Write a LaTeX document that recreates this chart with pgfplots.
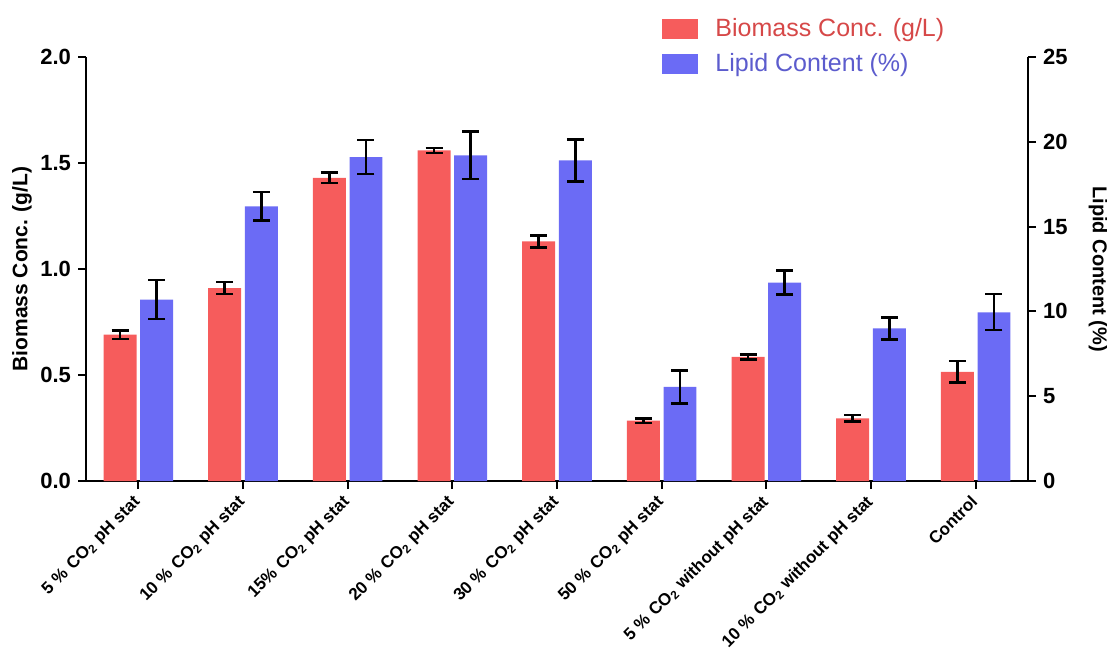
\documentclass[border=0pt]{standalone}
\usepackage{fontspec}
\setmainfont{Liberation Sans}
\usepackage{pgfplots}
\usepackage{pgfplotstable}
\pgfplotsset{compat=1.18}
\definecolor{barred}{RGB}{246,92,92}
\definecolor{barblue}{RGB}{107,107,245}
\definecolor{txtred}{RGB}{214,72,72}
\definecolor{txtblue}{RGB}{92,92,205}

% biomass (g/L), bars left of each category centre
\pgfplotstableread{
x      y      e
-0.175 0.69   0.020
0.825  0.91   0.028
1.825  1.43   0.025
2.825  1.56   0.012
3.825  1.13   0.028
4.825  0.285  0.010
5.825  0.585  0.012
6.825  0.295  0.015
7.825  0.515  0.050
}\biomass
% lipid content (%), bars right of each category centre
\pgfplotstableread{
x      y      e
0.175  10.7   1.15
1.175  16.2   0.83
2.175  19.1   1.00
3.175  19.2   1.40
4.175  18.9   1.24
5.175  5.55   0.97
6.175  11.7   0.71
7.175  9.0    0.65
8.175  9.95   1.06
}\lipid

\pgfplotsset{
  common/.style={
    at={(43pt,84.5pt)}, anchor=south west,
    scale only axis, width=471pt, height=212pt,
    xmin=-0.5, xmax=8.5,
    axis line style={line width=1pt, black},
    tick style={line width=1pt, black},
    major tick length=4pt,
    tick align=outside,
    /pgf/number format/assume math mode=true,
    ticklabel style={font=\bfseries\fontsize{11}{13}\selectfont},
  },
  barstyle/.style={
    ybar, bar width=0.315, bar shift=0pt, draw=none, fill=#1,
    error bars/y dir=both, error bars/y explicit,
    error bars/error bar style={line width=1.2pt, black},
    error bars/error mark options={line width=1.2pt, black, mark size=4.25pt, rotate=90},
  },
}
\newcommand{\sub}[1]{\textsubscript{#1}}
\newcommand{\gap}{\hspace{0.35em}}

\begin{document}
\begin{tikzpicture}
\path[use as bounding box] (0,0) rectangle (553.5pt,325pt);

\begin{axis}[common,
  ymin=0, ymax=2,
  axis y line*=left, axis x line*=bottom,
  ytick={0,0.5,1,1.5,2},
  yticklabel style={/pgf/number format/.cd, fixed, fixed zerofill, precision=1},
  xtick={0,...,8},
  xticklabels={
    {5 \%\gap CO\sub{2} pH stat},
    {10 \%\gap CO\sub{2} pH stat},
    {15\%\gap CO\sub{2} pH stat},
    {20 \%\gap CO\sub{2} pH stat},
    {30 \%\gap CO\sub{2} pH stat},
    {50 \%\gap CO\sub{2} pH stat},
    {5 \%\gap CO\sub{2} without pH stat},
    {10 \%\gap CO\sub{2} without pH stat},
    {Control}},
  xticklabel style={font=\bfseries\fontsize{8.5}{10}\selectfont, xshift=-3pt, yshift=-1pt, rotate=45, anchor=north east, inner sep=1pt},
  ylabel={Biomass Conc. (g/L)},
  every axis y label/.style={at={(axis description cs:-0.068,0.5)}, rotate=90, anchor=center, font=\bfseries\fontsize{10.5}{12}\selectfont},
]
\addplot[barstyle=barred] table[x=x, y=y, y error=e] {\biomass};
\end{axis}

\begin{axis}[common,
  ymin=0, ymax=25,
  axis y line*=right, axis x line=none,
  ytick={0,5,10,15,20,25},
  ylabel={Lipid Content (\%)},
  every axis y label/.style={at={(axis description cs:1.0743,0.5)}, rotate=-90, anchor=center, font=\bfseries\fontsize{10}{12}\selectfont},
  legend style={at={(rel axis cs:0.6115,1.101)}, anchor=north west, draw=none, fill=none,
    inner sep=0pt, row sep=3pt, font=\fontsize{12.5}{14}\selectfont,
    /tikz/every odd column/.append style={column sep=6.5pt}},
  legend cell align=left,
  legend image code/.code={\fill[#1] (0pt,-5pt) rectangle (18pt,5pt);},
]
\addlegendimage{fill=barred, draw=none}
\addlegendentry{\textcolor{txtred}{Biomass Conc. (g/L)}}
\addlegendimage{fill=barblue, draw=none}
\addlegendentry{\textcolor{txtblue}{Lipid Content (\%)}}
\addplot[forget plot, barstyle=barblue] table[x=x, y=y, y error=e] {\lipid};
\end{axis}
\end{tikzpicture}
\end{document}
